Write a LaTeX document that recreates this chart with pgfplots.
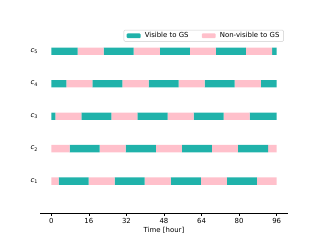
\documentclass[border=0pt]{standalone}
\usepackage{pgfplots}
\usepackage{pgfplotstable}
\pgfplotsset{compat=1.18}
\usepackage{fontspec}
\setmainfont{DejaVu Sans}
\definecolor{vis}{HTML}{20B2AA}
\definecolor{nvis}{HTML}{FFC0CB}
\pgfplotstableread{
y  ta   pa   tb   pb   tc   pc   td   pd   te   pe
1  0    3.1  12.8 11.1 12.8 11.1 12.8 11.1 12.7 8.5
2  0    7.8  12.8 11.1 12.8 11.1 12.8 11.1 12.8 3.7
3  1.7  11.1 12.8 11.1 12.8 11.1 12.8 11.1 11.5 0
4  6.4  11.1 12.8 11.1 12.8 11.1 12.8 11.1 6.8  0
5  11.2 11.1 12.8 11.1 12.8 11.1 12.8 11.1 2.0  0
}\segs
\begin{document}
\begin{tikzpicture}
\begin{axis}[
  name=ax,
  scale only axis,
  width=357.1pt, height=266.1pt,
  xbar stacked, bar width=10.5pt,
  xmin=-4.8, xmax=100.8,
  ymin=0, ymax=5.69,
  axis x line*=bottom,
  axis y line=none,
  axis line style={line width=0.8pt},
  xtick={0,16,32,48,64,80,96},
  xtick style={line width=0.8pt, black},
  tick align=outside,
  major tick length=3.5pt,
  /pgf/number format/assume math mode=true,
  tick label style={font=\fontsize{10}{12}\selectfont},
  xlabel={Time [hour]},
  xlabel style={font=\fontsize{10}{12}\selectfont, yshift=2pt},
  legend columns=2,
  legend style={at={(0.983,0.9935)}, anchor=north east,
    draw=black!20, rounded corners=1.5pt, line width=0.6pt,
    font=\fontsize{10}{12}\selectfont,
    /tikz/every even column/.append style={column sep=17pt},
    /tikz/every odd column/.append style={column sep=4pt},
    inner xsep=4pt, inner ysep=1.5pt},
  legend image code/.code={\fill[#1] (0pt,-3.5pt) rectangle (20pt,3.5pt);},
  clip=false,
]
\addplot[fill=vis, draw=none] table[x=ta, y=y] {\segs};
\addplot[fill=nvis, draw=none] table[x=pa, y=y] {\segs};
\addplot[fill=vis, draw=none, forget plot] table[x=tb, y=y] {\segs};
\addplot[fill=nvis, draw=none, forget plot] table[x=pb, y=y] {\segs};
\addplot[fill=vis, draw=none, forget plot] table[x=tc, y=y] {\segs};
\addplot[fill=nvis, draw=none, forget plot] table[x=pc, y=y] {\segs};
\addplot[fill=vis, draw=none, forget plot] table[x=td, y=y] {\segs};
\addplot[fill=nvis, draw=none, forget plot] table[x=pd, y=y] {\segs};
\addplot[fill=vis, draw=none, forget plot] table[x=te, y=y] {\segs};
\addplot[fill=nvis, draw=none, forget plot] table[x=pe, y=y] {\segs};
\legend{Visible to GS, Non-visible to GS}
\foreach \i in {1,...,5} {
  \edef\tmp{\noexpand\node[anchor=east, font=\noexpand\fontsize{10}{12}\noexpand\selectfont] at (axis cs:-4.8,\i) {\noexpand\textit{c}\noexpand\raisebox{-2pt}{\noexpand\fontsize{7}{8}\noexpand\selectfont\i}};}
  \tmp
}
\end{axis}
\path ([xshift=-57.6pt,yshift=-38.0pt]ax.south west) rectangle ([xshift=46.08pt,yshift=41.47pt]ax.north east);
\end{tikzpicture}
\end{document}
